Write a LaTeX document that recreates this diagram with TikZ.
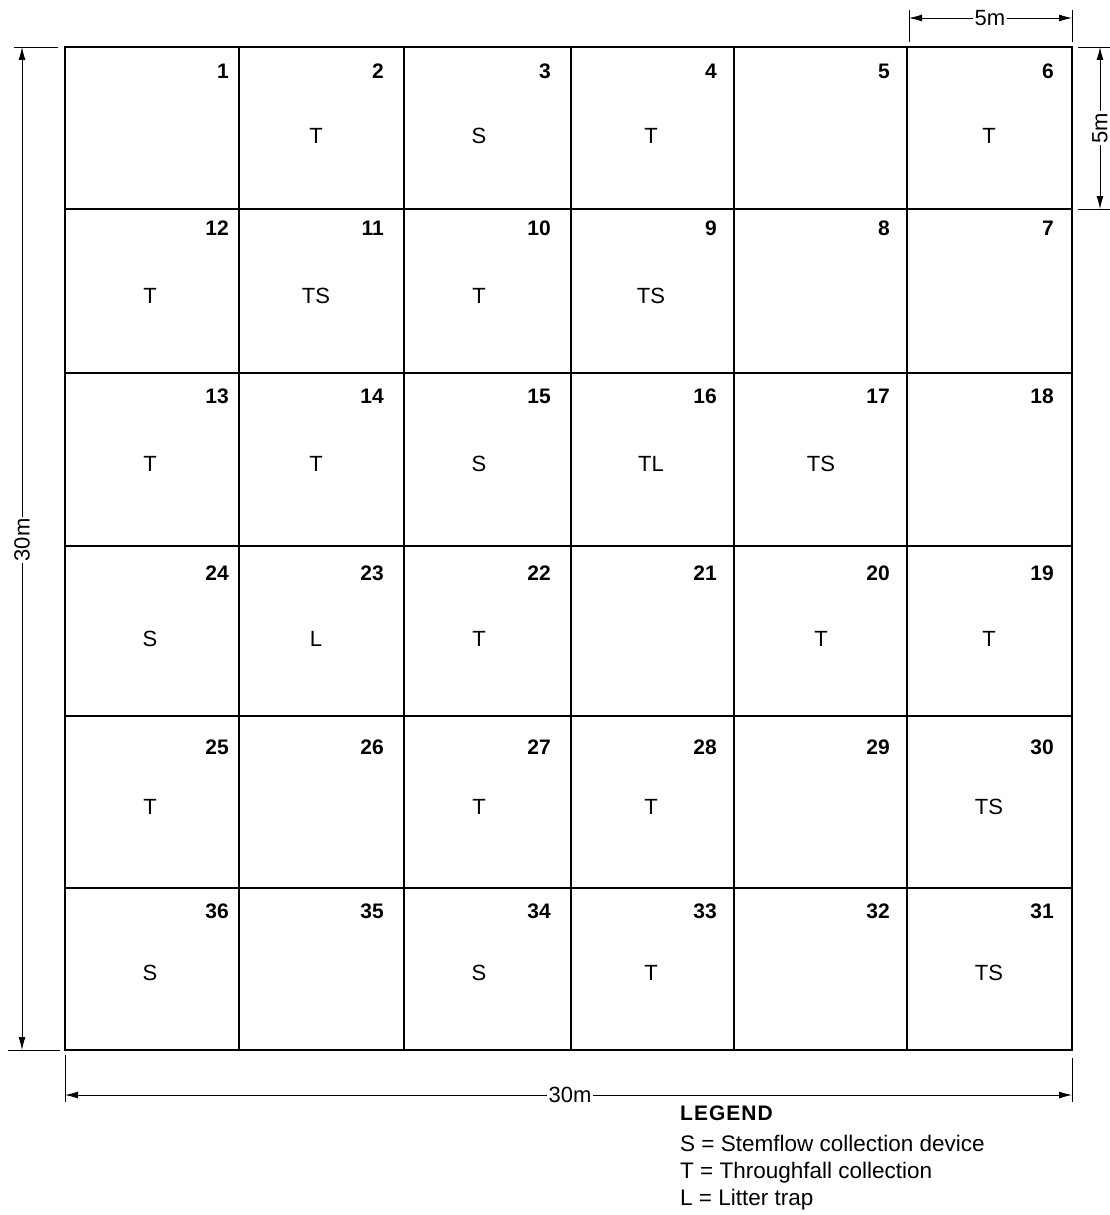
\documentclass[tikz,border=0pt]{standalone}
\usepackage{fontspec}
\setmainfont{Liberation Sans}
\usetikzlibrary{arrows.meta}
\begin{document}
\begin{tikzpicture}[x=1pt,y=-1pt,
  cellbox/.style={draw,line width=1.8pt,inner sep=0pt,outer sep=0pt},
  numlab/.style={font=\fontsize{21}{25}\selectfont\bfseries,inner sep=0pt,anchor=base east},
  devlab/.style={font=\fontsize{22}{26}\selectfont,inner sep=0pt,anchor=base},
  dimline/.style={line width=0.9pt,{Latex[length=13pt,width=7pt]}-{Latex[length=13pt,width=7pt]}},
  extline/.style={line width=0.9pt},
  dimtext/.style={font=\fontsize{22}{26}\selectfont,fill=white,inner sep=2pt},
  legtext/.style={font=\fontsize{22.5}{27}\selectfont,inner sep=0pt,anchor=base west}]
\useasboundingbox (0,0) rectangle (1110,1215);
\def\xlist{{65,239,404,571,734,907,1072}}
\def\ylist{{47,209,373,546,716,888,1050}}
\def\lxlist{{150,316,479,651,821,989}}
\def\lylist{{143,303,471,646,814,980}}
\def\noff{{31,26,30,34,38,30}}
\def\roff{{10,20,20,17,17,18}}
\foreach \n/\c/\r/\t in {
  1/1/1/, 2/2/1/T, 3/3/1/S, 4/4/1/T, 5/5/1/, 6/6/1/T,
  12/1/2/T, 11/2/2/TS, 10/3/2/T, 9/4/2/TS, 8/5/2/, 7/6/2/,
  13/1/3/T, 14/2/3/T, 15/3/3/S, 16/4/3/TL, 17/5/3/TS, 18/6/3/,
  24/1/4/S, 23/2/4/L, 22/3/4/T, 21/4/4/, 20/5/4/T, 19/6/4/T,
  25/1/5/T, 26/2/5/, 27/3/5/T, 28/4/5/T, 29/5/5/, 30/6/5/TS,
  36/1/6/S, 35/2/6/, 34/3/6/S, 33/4/6/T, 32/5/6/, 31/6/6/TS}{
  \pgfmathsetmacro\xa{\xlist[\c-1]}
  \pgfmathsetmacro\xb{\xlist[\c]}
  \pgfmathsetmacro\ya{\ylist[\r-1]}
  \pgfmathsetmacro\yb{\ylist[\r]}
  \pgfmathsetmacro\lx{\lxlist[\c-1]}
  \pgfmathsetmacro\ly{\lylist[\r-1]}
  \pgfmathsetmacro\no{\noff[\r-1]}
  \pgfmathsetmacro\ro{\roff[\c-1]}
  \node[cellbox,minimum width={(\xb-\xa)*1pt},minimum height={(\yb-\ya)*1pt}] (cell\n) at ({(\xa+\xb)/2},{(\ya+\yb)/2}) {};
  \node[numlab] (num\n) at ([xshift=-\ro pt,yshift=-\no pt]cell\n.north east) {\n};
  \node[devlab] (dev\n) at (\lx,\ly) {\t};
}
% top 5m
\coordinate (t1a) at (909,10); \coordinate (t1b) at (909,42);
\coordinate (t2a) at (1072,10); \coordinate (t2b) at (1072,42);
\draw[extline] (t1a) -- (t1b);
\draw[extline] (t2a) -- (t2b);
\coordinate (ta) at (909,18); \coordinate (tb) at (1072,18);
\draw[dimline] (ta) -- (tb);
\node[dimtext] (t5m) at (990,18) {5m};
% right 5m
\coordinate (r1a) at (1078,47); \coordinate (r1b) at (1110,47);
\coordinate (r2a) at (1078,209); \coordinate (r2b) at (1110,209);
\draw[extline] (r1a) -- (r1b);
\draw[extline] (r2a) -- (r2b);
\coordinate (ra) at (1100,47); \coordinate (rb) at (1100,209);
\draw[dimline] (ra) -- (rb);
\node[dimtext,rotate=90] (r5m) at (1100,128) {5m};
% left 30m
\coordinate (l1a) at (14,47); \coordinate (l1b) at (58,47);
\coordinate (l2a) at (8,1050); \coordinate (l2b) at (60,1050);
\draw[extline] (l1a) -- (l1b);
\draw[extline] (l2a) -- (l2b);
\coordinate (la) at (22,47); \coordinate (lb) at (22,1050);
\draw[dimline] (la) -- (lb);
\node[dimtext,rotate=90] (l30m) at (22,540) {30m};
% bottom 30m
\coordinate (b1a) at (65,1055); \coordinate (b1b) at (65,1102);
\coordinate (b2a) at (1072,1058); \coordinate (b2b) at (1072,1102);
\draw[extline] (b1a) -- (b1b);
\draw[extline] (b2a) -- (b2b);
\coordinate (ba) at (65,1095); \coordinate (bb) at (1072,1095);
\draw[dimline] (ba) -- (bb);
\node[dimtext] (b30m) at (570,1095) {30m};
% legend
\node[legtext,font=\fontsize{21}{25}\selectfont\bfseries] (leg0) at (680,1120) {L\kern1pt E\kern1pt G\kern1pt E\kern1pt N\kern1pt D};
\node[legtext] (leg1) at (680,1151) {S = Stemflow collection device};
\node[legtext] (leg2) at (680,1178) {T = Throughfall collection};
\node[legtext] (leg3) at (680,1205) {L = Litter trap};
\end{tikzpicture}
\end{document}
